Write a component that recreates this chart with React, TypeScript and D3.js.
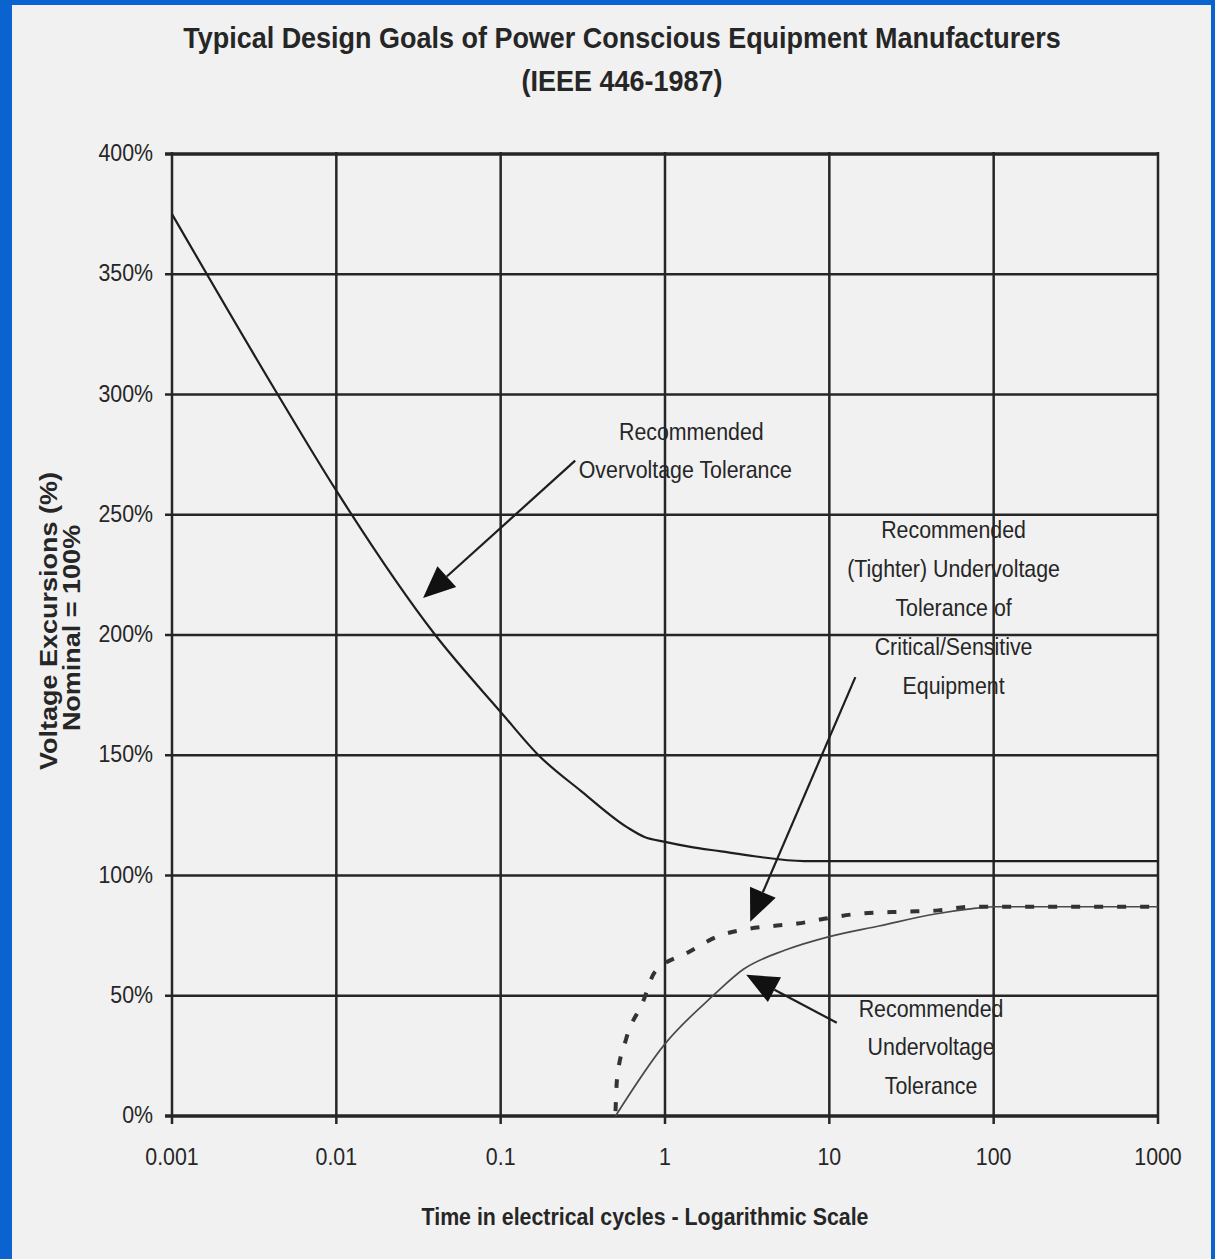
import React from 'react';
import * as d3 from 'd3';

// chart values
const decades = [0.001, 0.01, 0.1, 1, 10, 100, 1000];
const decadeLabels = ['0.001', '0.01', '0.1', '1', '10', '100', '1000'];
const pctTicks = [0, 50, 100, 150, 200, 250, 300, 350, 400];

const overCycles = [0.001, 0.0044, 0.01, 0.04, 0.1, 0.17, 0.31, 0.59, 0.75, 1, 1.4, 2.2, 3.5, 7, 1000];
const overPct = [375, 300, 260, 200, 168, 150, 135, 120, 116, 114, 112, 110, 108, 106, 106];

const underCycles = [0.5, 1, 1.96, 3, 5.4, 10, 20, 44, 70, 100, 1000];
const underPct = [0, 30, 50, 61, 69, 74.6, 79, 84, 86, 87, 87];

const tightCycles = [0.5, 0.51, 0.58, 0.73, 0.87, 1.38, 2.15, 3, 4.5, 6.4, 9.3, 14.6, 29, 46, 73, 1000];
const tightPct = [2, 15, 32, 47, 60, 68, 75, 77.5, 79, 80, 82, 84, 85, 85.5, 87, 87];

// annotation arrows: [fromCycles, fromPct, tipCycles, tipPct]
const arrows = [
  [0.284, 272.5, 0.0337, 215.4],
  [14.4, 182.5, 3.3, 80.8],
  [11.1, 38.75, 3.12, 58.75],
];

const overLabel = ['Recommended', 'Overvoltage Tolerance'];
const overLabelAt = [1.33, 281];
const tightLabel = ['Recommended', '(Tighter) Undervoltage', 'Tolerance of', 'Critical/Sensitive', 'Equipment'];
const tightLabelAt = [57, 240.5];
const underLabel = ['Recommended', 'Undervoltage', 'Tolerance'];
const underLabelAt = [41.6, 41.2];

const W = 1215;
const H = 1259;
const SQ = 0.89; // the scan is squeezed horizontally
const INK = '#262626';
const FONT = '"Liberation Sans", Arial, sans-serif';

function Txt({ x, y, size, bold, anchor = 'middle', rot = false, sq = SQ, children }: any) {
  return (
    <text
      transform={`translate(${x},${y}) scale(${sq},1)${rot ? ' rotate(-90)' : ''}`}
      fontSize={size}
      fontWeight={bold ? 'bold' : 'normal'}
      textAnchor={anchor}
      fill={INK}
      fontFamily={FONT}
    >
      {children}
    </text>
  );
}

export default function App() {
  const x = d3.scaleLog().domain([0.001, 1000]).range([172, 1158]);
  const y = d3.scaleLinear().domain([0, 400]).range([1116, 154]);

  const line = d3
    .line<[number, number]>()
    .x((d) => x(d[0]))
    .y((d) => y(d[1]))
    .curve(d3.curveMonotoneX);

  const over = line(d3.zip(overCycles, overPct) as any);
  const under = line(d3.zip(underCycles, underPct) as any);
  const tight = line(d3.zip(tightCycles, tightPct) as any);

  return (
    <div style={{ position: 'absolute', left: 0, top: 0 }}>
      <svg width={W} height={H} style={{ display: 'block' }}>
        <rect x={0} y={0} width={W} height={H} fill="#0b63cf" />
        <rect x={12} y={5} width={W - 16} height={H - 5} fill="#f1f1f1" />

        {/* title */}
        <Txt x={622} y={48} size={29} bold sq={0.93}>
          Typical Design Goals of Power Conscious Equipment Manufacturers
        </Txt>
        <Txt x={622} y={91} size={29} bold sq={0.93}>
          (IEEE 446-1987)
        </Txt>

        {/* grid */}
        <g stroke={INK} strokeWidth={2.5}>
          {pctTicks.map((p) => (
            <line key={'h' + p} x1={x(0.001) - 7} x2={x(1000)} y1={y(p)} y2={y(p)}
              strokeWidth={p === 0 || p === 400 ? 3.6 : 2.5} />
          ))}
          {decades.map((c) => (
            <line key={'v' + c} x1={x(c)} x2={x(c)} y1={y(400) - 2} y2={y(0) + 8} />
          ))}
        </g>

        {/* y ticks */}
        {pctTicks.map((p) => (
          <Txt key={'yl' + p} x={153} y={y(p) + 7} size={24} anchor="end">
            {p + '%'}
          </Txt>
        ))}
        {/* x ticks */}
        {decades.map((c, i) => (
          <Txt key={'xl' + c} x={x(c)} y={1165} size={24}>
            {decadeLabels[i]}
          </Txt>
        ))}

        <Txt x={57} y={621} size={27} bold rot>
          Voltage Excursions (%)
        </Txt>
        <Txt x={80} y={628} size={27} bold rot>
          Nominal = 100%
        </Txt>
        <Txt x={645} y={1225} size={24} bold>
          Time in electrical cycles - Logarithmic Scale
        </Txt>

        {/* curves */}
        <path d={over || ''} fill="none" stroke="#1e1e1e" strokeWidth={2.2} />
        <path d={under || ''} fill="none" stroke="#4a4a4a" strokeWidth={1.7} />
        <path d={tight || ''} fill="none" stroke="#333" strokeWidth={4} strokeDasharray="9,14" />

        {/* arrows */}
        {arrows.map((a, i) => {
          const x1 = x(a[0]);
          const y1 = y(a[1]);
          const x2 = x(a[2]);
          const y2 = y(a[3]);
          const len = Math.hypot(x2 - x1, y2 - y1);
          const ux = (x2 - x1) / len;
          const uy = (y2 - y1) / len;
          const hl = 32;
          const hw = 14;
          const bx = x2 - ux * hl;
          const by = y2 - uy * hl;
          const pts = [
            [x2, y2],
            [bx - uy * hw, by + ux * hw],
            [bx + uy * hw, by - ux * hw],
          ];
          return (
            <g key={'a' + i}>
              <line x1={x1} y1={y1} x2={bx} y2={by} stroke="#1e1e1e" strokeWidth={2.2} />
              <polygon points={pts.map((p) => p.join(',')).join(' ')} fill="#111" />
            </g>
          );
        })}

        {/* annotation labels */}
        {overLabel.map((t, i) => (
          <Txt key={'ol' + i} x={x(overLabelAt[0]) + (i === 0 ? 6 : 0)} y={y(overLabelAt[1]) + i * 38} size={24}>
            {t}
          </Txt>
        ))}
        {tightLabel.map((t, i) => (
          <Txt key={'tl' + i} x={x(tightLabelAt[0])} y={y(tightLabelAt[1]) + i * 39} size={24}>
            {t}
          </Txt>
        ))}
        {underLabel.map((t, i) => (
          <Txt key={'ul' + i} x={x(underLabelAt[0])} y={y(underLabelAt[1]) + i * 38.5} size={24}>
            {t}
          </Txt>
        ))}
      </svg>
    </div>
  );
}
